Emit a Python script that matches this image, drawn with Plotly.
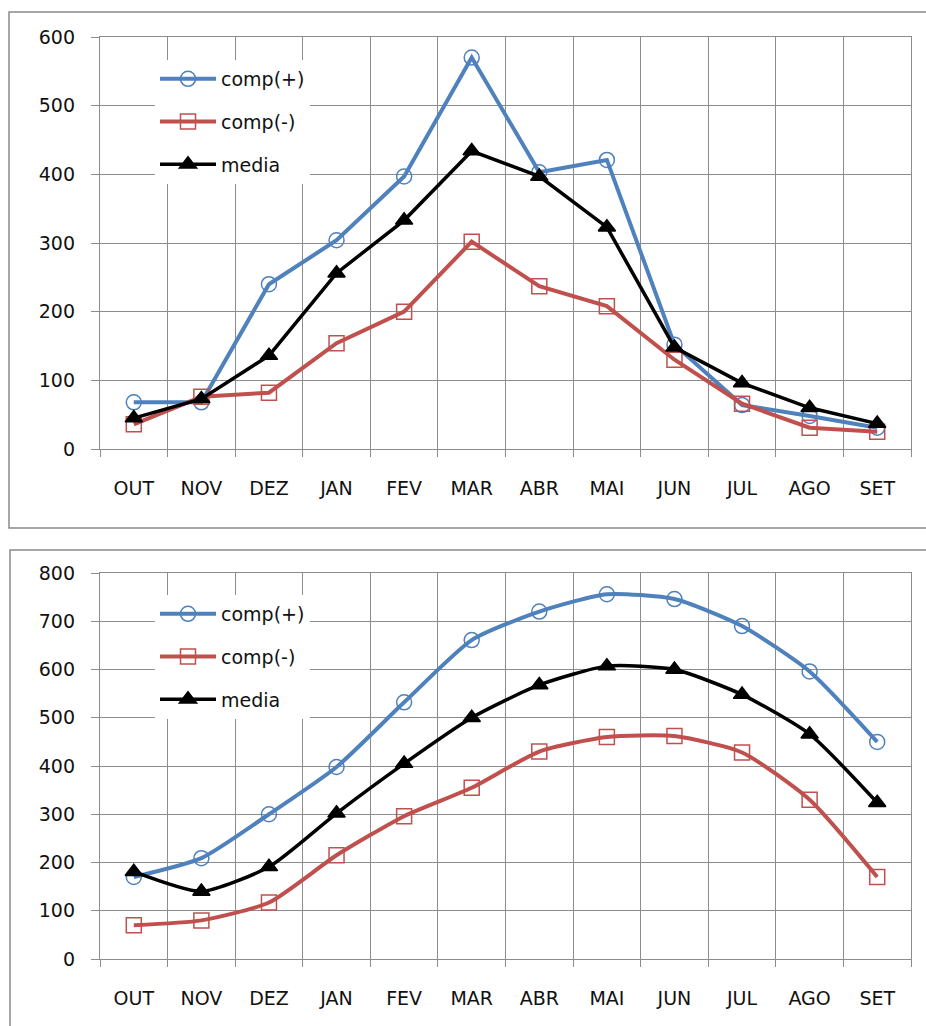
import plotly.graph_objects as go

months = ["OUT", "NOV", "DEZ", "JAN", "FEV", "MAR", "ABR", "MAI", "JUN", "JUL", "AGO", "SET"]

top_comp_plus = [68, 68, 240, 304, 397, 570, 403, 421, 152, 64, 48, 31]
top_comp_minus = [36, 76, 82, 154, 200, 302, 237, 208, 130, 66, 31, 25]
top_media = [45, 73, 136, 256, 333, 434, 397, 323, 148, 96, 60, 37]

bot_comp_plus = [170, 209, 300, 398, 532, 661, 720, 756, 746, 690, 596, 450]
bot_comp_minus = [70, 80, 117, 215, 296, 355, 430, 460, 462, 428, 330, 170]
bot_media = [181, 140, 191, 302, 405, 500, 568, 607, 600, 548, 466, 324]

series_names = ["comp(+)", "comp(-)", "media"]

BLUE = "#4F81BD"
RED = "#C0504D"
BLACK = "#000000"
GRID = "#8C8C8C"
FONT = "DejaVu Sans"

W, H = 926, 1026

fig = go.Figure()


def add(y, name, color, symbol, xa, ya, legend, shape, width):
    fig.add_trace(go.Scatter(
        x=months, y=y, name=name, mode="lines+markers",
        line=dict(color=color, width=width, shape=shape, smoothing=0.6),
        marker=dict(symbol=symbol, size=15, color=color,
                    line=dict(color=color, width=1.5)),
        xaxis=xa, yaxis=ya, legend=legend, legendgroup=legend + name,
    ))


for ys, xa, ya, lg, shape in [
    ((top_comp_plus, top_comp_minus, top_media), "x", "y", "legend", "linear"),
    ((bot_comp_plus, bot_comp_minus, bot_media), "x2", "y2", "legend2", "spline"),
]:
    add(ys[0], series_names[0], BLUE, "circle-open", xa, ya, lg, shape, 4)
    add(ys[1], series_names[1], RED, "square-open", xa, ya, lg, shape, 4)
    add(ys[2], series_names[2], BLACK, "triangle-up", xa, ya, lg, shape, 3.5)

tickfont = dict(family=FONT, size=19, color="#111111")


def xaxis_cfg(ydom_anchor):
    return dict(
        domain=[100 / W, 911 / W], anchor=ydom_anchor, type="category",
        range=[-0.5, 11.5], tickson="boundaries",
        showgrid=True, gridcolor=GRID, gridwidth=1.3,
        ticks="outside", ticklen=7, tickcolor=GRID, tickwidth=1.3,
        showline=True, linecolor=GRID, linewidth=1.3, mirror=True,
        tickfont=tickfont, ticklabelstandoff=22, fixedrange=True,
        automargin=False,
    )


def yaxis_cfg(dom, top, xanchor):
    return dict(
        domain=dom, anchor=xanchor, range=[0, top], dtick=100,
        showgrid=True, gridcolor=GRID, gridwidth=1.3, zeroline=False,
        ticks="outside", ticklen=8, tickcolor=GRID, tickwidth=1.3,
        showline=True, linecolor=GRID, linewidth=1.3, mirror=True,
        tickfont=tickfont, ticklabelstandoff=12, fixedrange=True,
        automargin=False,
    )


legend_common = dict(
    bgcolor="white", borderwidth=0, font=dict(family=FONT, size=19, color="#111111"),
    xanchor="left", yanchor="top", tracegroupgap=15, itemwidth=56,
    orientation="v",
)

fig.update_layout(
    width=W, height=H,
    margin=dict(l=0, r=0, t=0, b=0, pad=0, autoexpand=False),
    paper_bgcolor="white", plot_bgcolor="white",
    showlegend=True,
    xaxis=xaxis_cfg("y"),
    yaxis=yaxis_cfg([1 - 449 / H, 1 - 37 / H], 600, "x"),
    xaxis2=xaxis_cfg("y2"),
    yaxis2=yaxis_cfg([1 - 959 / H, 1 - 573 / H], 800, "x2"),
    legend=dict(x=155 / W, y=1 - 60 / H, **legend_common),
    legend2=dict(x=155 / W, y=1 - 595 / H, **legend_common),
    shapes=[
        dict(type="rect", xref="paper", yref="paper",
             x0=9 / W, x1=1.02, y0=1 - 528 / H, y1=1 - 12 / H,
             line=dict(color="#8A8A8A", width=1.5), layer="below"),
        dict(type="rect", xref="paper", yref="paper",
             x0=10 / W, x1=1.02, y0=-0.02, y1=1 - 550 / H,
             line=dict(color="#8A8A8A", width=1.5), layer="below"),
    ],
)

fig.write_html(
    "out.html",
    config={"displayModeBar": False},
    post_script="document.body.style.margin='0';document.body.style.overflow='hidden';",
)
